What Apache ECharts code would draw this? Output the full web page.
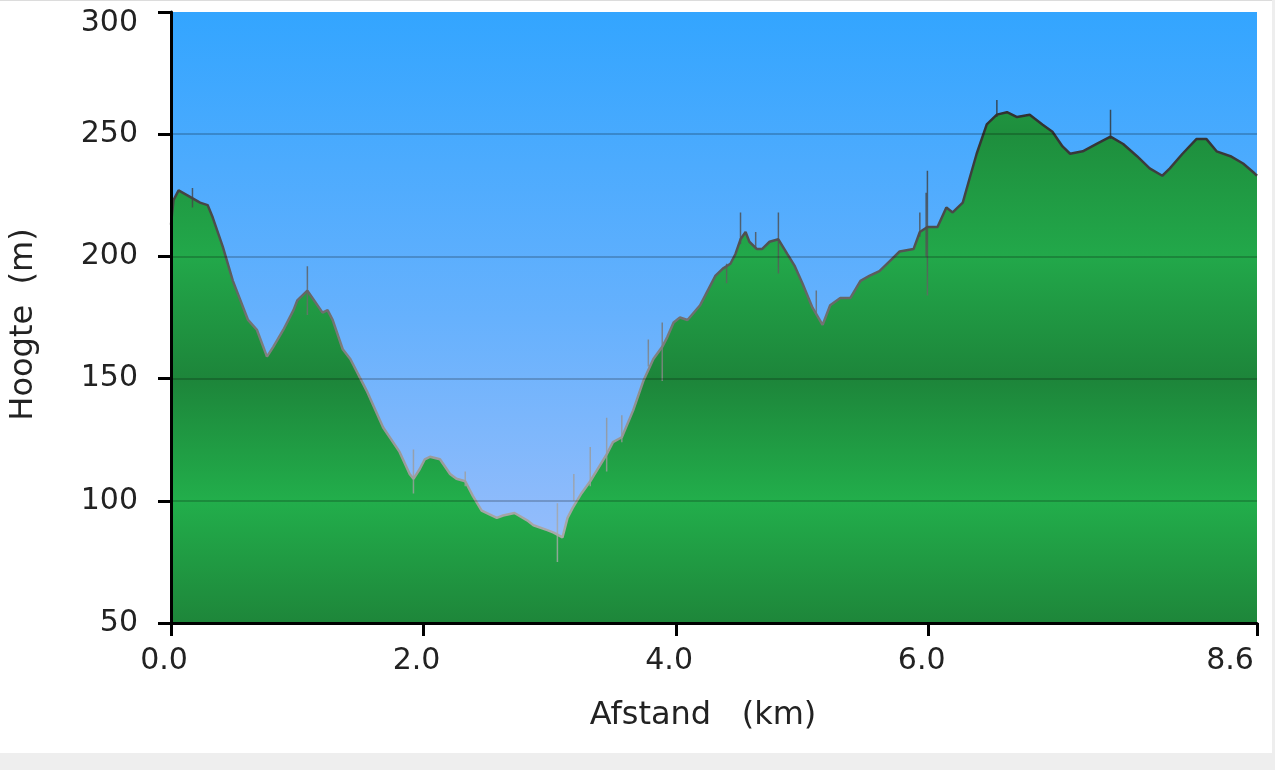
<!DOCTYPE html>
<html><head><meta charset="utf-8">
<script src="https://cdn.jsdelivr.net/npm/echarts@6/dist/echarts.min.js"></script>
<style>
html,body{margin:0;padding:0;background:#eeeeee;width:1275px;height:770px;overflow:hidden}
#panel{position:absolute;left:0;top:0;width:1272px;height:753px;background:#fff;border-top:1px solid #dcdcdc;box-sizing:border-box}
#chart{position:absolute;left:0;top:0;width:1275px;height:770px}
</style></head><body><div id="panel"></div><div id="chart"></div>
<script>
// ---- data ----
const distanceKm = [
  0.00, 0.02, 0.06, 0.13, 0.23, 0.29, 0.33, 0.41, 0.49, 0.55,
  0.61, 0.68, 0.76, 0.81, 0.89, 0.97, 1.00, 1.08, 1.12, 1.20,
  1.24, 1.28, 1.36, 1.42, 1.55, 1.68, 1.81, 1.89, 1.92, 1.97,
  2.01, 2.05, 2.13, 2.21, 2.26, 2.33, 2.39, 2.46, 2.58, 2.63,
  2.72, 2.82, 2.87, 2.98, 3.03, 3.10, 3.14, 3.18, 3.25, 3.32,
  3.45, 3.50, 3.57, 3.66, 3.74, 3.82, 3.89, 3.93, 3.98, 4.03,
  4.09, 4.19, 4.24, 4.31, 4.37, 4.43, 4.47, 4.51, 4.55, 4.58,
  4.64, 4.68, 4.74, 4.81, 4.88, 4.94, 5.00, 5.08, 5.16, 5.22,
  5.30, 5.38, 5.46, 5.53, 5.61, 5.69, 5.77, 5.88, 5.93, 5.99,
  6.07, 6.14, 6.19, 6.27, 6.33, 6.38, 6.46, 6.54, 6.62, 6.70,
  6.80, 6.90, 6.98, 7.06, 7.12, 7.22, 7.33, 7.44, 7.54, 7.65,
  7.75, 7.85, 7.91, 8.01, 8.12, 8.20, 8.28, 8.39, 8.49, 8.58,
  8.60
];
const elevationM = [
  213, 223, 227, 225, 222, 221, 216, 204, 190, 182,
  174, 170, 159, 163, 170, 178, 182, 186, 183, 177,
  178, 174, 162, 158, 145, 130, 120, 111, 109, 113,
  117, 118, 117, 111, 109, 108, 102, 96, 93, 94,
  95, 92, 90, 88, 87, 85, 93, 97, 103, 108,
  119, 124, 126, 137, 149, 158, 163, 167, 173, 175,
  174, 180, 185, 192, 195, 197, 201, 207, 210, 206,
  203, 203, 206, 207, 201, 196, 189, 179, 172, 180,
  183, 183, 190, 192, 194, 198, 202, 203, 210, 212,
  212, 220, 218, 222, 233, 242, 254, 258, 259, 257,
  258, 254, 251, 245, 242, 243, 246, 249, 246, 241,
  236, 233, 236, 242, 248, 248, 243, 241, 238, 234,
  233
];
// GPS noise spikes (distance, low end, high end)
const spikeKm    = [0.01, 0.17, 1.08, 1.92, 2.33, 3.06, 3.19, 3.32, 3.45, 3.57, 3.78, 3.89, 4.40, 4.51, 4.63, 4.81, 5.11, 5.93, 5.98, 5.99, 6.54, 7.44];
const spikeLowM  = [211,  220,  176,  103,  106,  75,   100,  106,  112,  124,  155,  149,  189,  205,  203,  193,  176,  208,  200,  184,  257,  248];
const spikeHighM = [236,  228,  196,  121,  112,  99,   111,  122,  134,  135,  166,  173,  197,  218,  210,  218,  186,  218,  226,  235,  264,  260];

const xTickValues = [0, 2, 4, 6, 8.6];
const yMin = 50, yMax = 300, yStep = 50;
const xAxisTitle = 'Afstand   (km)';
const yAxisTitle = 'Hoogte  (m)';

// ---- chart ----
const chart = echarts.init(document.getElementById('chart'), null, {renderer: 'canvas'});
const LG = echarts.graphic.LinearGradient;
const plotTop = 12, plotBottom = 623;
const skyFill = new LG(0, plotTop, 0, plotBottom, [
  {offset: 0, color: '#33a5ff'},
  {offset: 0.5, color: '#66b1fd'},
  {offset: 1, color: '#a6c1fa'}
], true);
const groundFill = new LG(0, plotTop, 0, plotBottom, [
  {offset: 0, color: '#23ad4b'},
  {offset: 0.2, color: '#1e8e3d'},
  {offset: 0.4, color: '#22a84a'},
  {offset: 0.6, color: '#1d853a'},
  {offset: 0.8, color: '#22ae4b'},
  {offset: 1, color: '#1e863a'}
], true);
const lineColor = new LG(0, plotTop, 0, plotBottom, [
  {offset: 0, color: '#2a2a2a'},
  {offset: 0.2, color: '#333333'},
  {offset: 0.4, color: '#555555'},
  {offset: 0.6, color: '#8c8c8c'},
  {offset: 0.85, color: '#a8a8a8'},
  {offset: 1, color: '#b0b0b0'}
], true);

const profile = distanceKm.map((d, i) => [d, elevationM[i]]);
const spikes = [];
spikeKm.forEach((d, i) => { spikes.push([d, spikeLowM[i]], [d, spikeHighM[i]], '-'); });

const FONT = 'DejaVu Sans';
const TXT = '#222222';

chart.setOption({
  backgroundColor: 'transparent',
  animation: false,
  grid: {
    left: 171, right: 18, top: plotTop, bottom: 770 - plotBottom,
    show: true, backgroundColor: skyFill, borderWidth: 0
  },
  xAxis: {
    type: 'value', min: 0, max: 8.6, interval: 2, z: 5,
    name: xAxisTitle, nameLocation: 'middle', nameGap: 77,
    nameTextStyle: {fontFamily: FONT, fontSize: 32, color: TXT, padding: [0, 22, 0, 0]},
    axisLine: {show: true, onZero: false, lineStyle: {color: '#000', width: 3}},
    axisTick: {show: true, customValues: xTickValues, length: 13, lineStyle: {color: '#000', width: 3}},
    axisLabel: {
      customValues: xTickValues, margin: 23, fontFamily: FONT, fontSize: 30, color: TXT,
      padding: [0, 14, 0, 0],
      formatter: v => (Math.abs(v - 8.6) < 1e-6 ? '{last|' + v.toFixed(1) + '}' : v.toFixed(1)),
      rich: {last: {fontFamily: FONT, fontSize: 30, color: TXT, padding: [0, 40, 0, 0]}}
    },
    splitLine: {show: false}
  },
  yAxis: {
    type: 'value', min: yMin, max: yMax, interval: yStep, z: 5,
    name: yAxisTitle, nameLocation: 'middle', nameGap: 131, nameRotate: 90,
    nameTextStyle: {fontFamily: FONT, fontSize: 32, color: TXT, padding: [0, 14, 0, 0]},
    axisLine: {show: true, lineStyle: {color: '#000', width: 3}},
    axisTick: {show: true, length: 13, lineStyle: {color: '#000', width: 3}},
    axisLabel: {
      margin: 33, fontFamily: FONT, fontSize: 30, color: TXT,
      formatter: v => (v === yMax ? '{top|' + v + '}' : String(v)),
      rich: {top: {fontFamily: FONT, fontSize: 30, color: TXT, padding: [22, 0, 0, 0]}}
    },
    splitLine: {show: true, showMinLine: false, showMaxLine: false, lineStyle: {color: 'rgba(0,0,0,0.2)', width: 2}}
  },
  series: [
    {
      type: 'line', data: profile, showSymbol: false, symbol: 'none', z: 2,
      lineStyle: {color: lineColor, width: 2.5},
      areaStyle: {color: groundFill, opacity: 1, origin: 'start'}
    },
    {
      type: 'line', data: spikes, showSymbol: false, symbol: 'none', z: 3, connectNulls: false,
      lineStyle: {color: lineColor, width: 1.5, opacity: 0.8}
    }
  ]
});
</script></body></html>
